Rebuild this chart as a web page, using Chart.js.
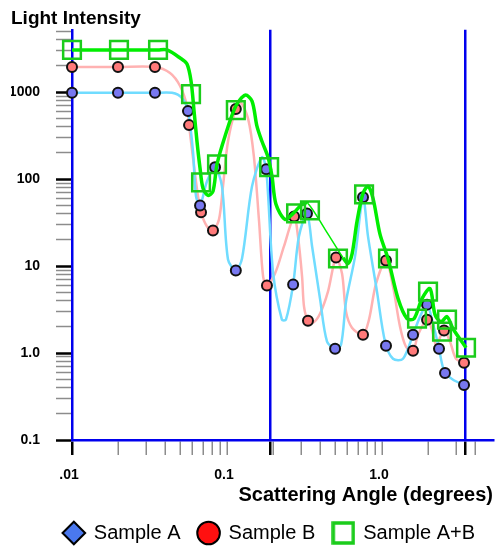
<!DOCTYPE html>
<html>
<head>
<meta charset="utf-8">
<title>Light Intensity vs Scattering Angle</title>
<script src="https://cdn.jsdelivr.net/npm/chart.js@4.4.1/dist/chart.umd.min.js"></script>
<style>
    html, body { margin: 0; padding: 0; background: #fff; }
</style>
</head>
<body>
<canvas id="myChart" width="496" height="546"></canvas>
<script>
// marker readings (angle in degrees, intensity)
var angleA = [0.01, 0.0198, 0.0343, 0.056, 0.067, 0.0837, 0.114, 0.179, 0.267, 0.328, 0.498, 0.754, 1.061, 1.585, 1.952, 2.332, 2.55, 3.381];
var intensityA = [980, 980, 980, 604, 49.8, 137, 8.87, 130, 6.12, 40.3, 1.12, 61.6, 1.21, 1.62, 3.6, 1.12, 0.59, 0.43];

var angleB = [0.01, 0.0198, 0.0343, 0.0569, 0.068, 0.0812, 0.114, 0.181, 0.271, 0.333, 0.505, 0.754, 1.061, 1.585, 1.952, 2.512, 3.381];
var intensityB = [1940, 1940, 1940, 417, 41.4, 25.7, 637, 5.96, 37.2, 2.35, 12.5, 1.62, 11.6, 1.06, 2.42, 1.81, 0.772];

var angleAB = [0.01, 0.0201, 0.0359, 0.0586, 0.068, 0.0862, 0.114, 0.187, 0.279, 0.343, 0.52, 0.766, 1.093, 1.682, 1.981, 2.439, 2.627, 3.483];
var intensityAB = [3050, 3050, 3050, 948, 91.7, 148, 620, 137, 40.3, 43.6, 12.2, 66.7, 12.2, 2.48, 5.08, 1.76, 2.42, 1.15];

// curves (they swing past the markers)
var lineAngleA = [0.01, 0.0198, 0.0343, 0.0442, 0.0513, 0.056, 0.0603, 0.0631, 0.067, 0.0743, 0.0837, 0.0928, 0.1015, 0.114, 0.125, 0.145, 0.168, 0.179, 0.198, 0.226, 0.24, 0.267, 0.291, 0.328, 0.354, 0.398, 0.442, 0.498, 0.544, 0.586, 0.67, 0.754, 0.812, 0.928, 1.046, 1.178, 1.366, 1.585, 1.759, 1.952, 2.133, 2.332, 2.439, 2.55, 2.871, 3.381];
var lineIntensityA = [980, 980, 980, 980, 853, 604, 209, 63.3, 49.8, 94.2, 137, 82.5, 11.9, 8.87, 12.2, 82.5, 178, 130, 8.64, 2.42, 2.42, 6.12, 21.9, 40.3, 16.8, 4.22, 1.35, 1.12, 1.245, 3.9, 12.9, 61.6, 21.9, 5.08, 1.35, 0.859, 0.859, 1.62, 2.62, 3.6, 2.17, 1.12, 0.752, 0.592, 0.492, 0.43];

var lineAngleB = [0.01, 0.0198, 0.0343, 0.0429, 0.0498, 0.0552, 0.0569, 0.0613, 0.065, 0.068, 0.0743, 0.0812, 0.0888, 0.0942, 0.1015, 0.114, 0.123, 0.137, 0.149, 0.161, 0.171, 0.181, 0.204, 0.233, 0.271, 0.287, 0.305, 0.314, 0.333, 0.359, 0.398, 0.448, 0.505, 0.552, 0.586, 0.64, 0.754, 0.824, 0.915, 1.061, 1.178, 1.307, 1.428, 1.585, 1.707, 1.952, 2.102, 2.231, 2.512, 2.746, 3.001, 3.381];
var lineIntensityB = [1940, 1940, 1940, 1656, 1173, 690, 417, 140, 63.3, 41.4, 28.5, 25.7, 34.4, 82.5, 272, 637, 747, 489, 183, 32.6, 7.57, 5.96, 8.19, 16.8, 37.2, 21.9, 7.57, 3.41, 2.35, 2.23, 2.83, 5.08, 12.5, 8.19, 2.99, 1.955, 1.62, 2.42, 6.29, 11.6, 5.8, 2.0, 1.18, 1.06, 1.62, 2.42, 1.85, 1.245, 1.81, 1.35, 0.859, 0.772];

var lineAngleAB = [0.01, 0.0201, 0.0359, 0.041, 0.0498, 0.0552, 0.0586, 0.0613, 0.064, 0.067, 0.07, 0.0754, 0.0812, 0.0862, 0.0971, 0.114, 0.131, 0.145, 0.156, 0.168, 0.184, 0.195, 0.207, 0.237, 0.267, 0.305, 0.333, 0.429, 0.56, 0.603, 0.64, 0.69, 0.754, 0.812, 0.875, 0.971, 1.093, 1.269, 1.45, 1.609, 1.812, 2.041, 2.198, 2.403, 2.627, 2.871, 3.483];
var lineIntensityAB = [3050, 3050, 3050, 3050, 2465, 2100, 1339, 604, 272, 133, 78.2, 64.9, 72.2, 148, 311, 690, 923, 788, 406, 272, 178, 108, 51.2, 34.4, 40.3, 51.2, 52.5, 26.4, 12.5, 10.7, 13.6, 32.6, 68.5, 82.5, 60, 23.1, 12.2, 4.22, 2.48, 2.48, 4.22, 5.5, 2.76, 2.29, 2.62, 1.9, 1.15];
// stretch of the A+B curve that is drawn thin
var thinSpanAB = [0.333, 0.56];

// axis labels and the two blue marker lines
var xLabelValues = [0.01, 0.1, 1];
var xLabelText = ['.01', '0.1', '1.0'];
var xLastTick = 4;
var yLabelValues = [0.1, 1, 10, 100, 1000];
var yLabelText = ['0.1', '1.0', '10', '100', '1000'];
var guideAngles = [0.189, 3.43];

var BLUE = '#0000ee';
var GREEN = '#1bcc1b';

function pts(xs, ys) {
    return xs.map(function (x, i) { return {x: x, y: ys[i]}; });
}

function same(a, b) {
    return Math.abs(a - b) <= 1e-6 * Math.max(Math.abs(a), Math.abs(b));
}

function inList(v, list) {
    return list.some(function (w) { return same(v, w); });
}

function labelFor(v, values, texts) {
    for (var i = 0; i < values.length; i++) {
        if (same(v, values[i])) return texts[i];
    }
    return '';
}

// 1..9 x 10^n ticks plus any extra values
function logTicks(min, max, extra) {
    var ticks = [];
    for (var e = Math.floor(Math.log10(min)); e <= Math.floor(Math.log10(max)); e++) {
        for (var d = 1; d <= 9; d++) {
            var v = +(d * Math.pow(10, e)).toPrecision(6);
            if (v >= min * 0.9999 && v <= max * 1.0001) ticks.push({value: v, major: d === 1});
        }
    }
    extra.forEach(function (v) { ticks.push({value: v}); });
    return ticks.sort(function (a, b) { return a.value - b.value; });
}

function tickVal(ctx) {
    return ctx.tick ? ctx.tick.value : NaN;
}

// open square for the A+B legend entry (the built-in rect comes out too small)
var legendSquare = document.createElement('canvas');
legendSquare.width = 24;
legendSquare.height = 24;
var sq = legendSquare.getContext('2d');
sq.strokeStyle = GREEN;
sq.lineWidth = 3.5;
sq.strokeRect(2, 2, 20, 20);

Chart.defaults.font.family = '"Liberation Sans", Arial, sans-serif';
Chart.defaults.color = '#000';

new Chart('myChart', {
    type: 'scatter',
    data: {
        datasets: [
        {
            label: 'Sample A+B',
            data: pts(angleAB, intensityAB),
            pointStyle: 'rect',
            pointRadius: 12.5,
            pointBackgroundColor: 'rgba(0,0,0,0)',
            pointBorderColor: GREEN,
            pointBorderWidth: 2.5,
            clip: false
        },
        {
            label: 'A+B curve',
            data: pts(lineAngleAB, lineIntensityAB),
            showLine: true,
            borderColor: '#00ee00',
            borderWidth: 3.5,
            segment: {
                borderWidth: function (ctx) {
                    var a = ctx.p0.parsed.x, b = ctx.p1.parsed.x;
                    return (a >= thinSpanAB[0] * 0.999 && b <= thinSpanAB[1] * 1.001) ? 1.5 : 3.5;
                }
            },
            pointRadius: 0,
            tension: 0.3,
            clip: false
        },
        {
            label: 'Sample A',
            data: pts(angleA, intensityA),
            pointStyle: 'circle',
            pointRadius: 5,
            pointBackgroundColor: '#7878f0',
            pointBorderColor: '#111',
            pointBorderWidth: 2,
            clip: false
        },
        {
            label: 'Sample B',
            data: pts(angleB, intensityB),
            pointStyle: 'circle',
            pointRadius: 5,
            pointBackgroundColor: '#ff7a7a',
            pointBorderColor: '#111',
            pointBorderWidth: 2,
            clip: false
        },
        {
            label: 'A curve',
            data: pts(lineAngleA, lineIntensityA),
            showLine: true,
            borderColor: '#70dcff',
            borderWidth: 2.5,
            pointRadius: 0,
            tension: 0.3,
            clip: false
        },
        {
            label: 'B curve',
            data: pts(lineAngleB, lineIntensityB),
            showLine: true,
            borderColor: '#ffb2b2',
            borderWidth: 2.5,
            pointRadius: 0,
            tension: 0.3,
            clip: false
        }
        ]
    },
    options: {
        responsive: false,
        animation: false,
        events: [],
        devicePixelRatio: 1,
        layout: {autoPadding: false, padding: {left: 11, right: 3, top: 0, bottom: -7}},
        scales: {
            x: {
                type: 'logarithmic',
                min: 0.01,
                max: 5.2,
                afterBuildTicks: function (axis) { axis.ticks = logTicks(axis.min, xLastTick, guideAngles); },
                afterFit: function (axis) { axis.height = 65; },
                border: {color: BLUE, width: 2.5},
                grid: {
                    color: function (ctx) { return inList(tickVal(ctx), guideAngles) ? BLUE : 'rgba(0,0,0,0)'; },
                    lineWidth: 2.5,
                    tickLength: 15,
                    tickColor: function (ctx) {
                        var v = tickVal(ctx);
                        return (inList(v, guideAngles) || same(v, 0.01)) ? '#000' : '#8c8c8c';
                    },
                    tickWidth: function (ctx) {
                        var v = tickVal(ctx);
                        return (inList(v, guideAngles) || same(v, 0.01)) ? 2.5 : 1.5;
                    }
                },
                ticks: {
                    autoSkip: false,
                    maxRotation: 0,
                    minRotation: 0,
                    padding: 12,
                    labelOffset: -3,
                    font: {size: 14, weight: 'bold'},
                    callback: function (v) { return labelFor(v, xLabelValues, xLabelText); }
                },
                title: {
                    display: true,
                    text: 'Scattering Angle (degrees)',
                    align: 'end',
                    font: {size: 20, weight: 'bold'},
                    padding: {top: 0, bottom: -2}
                }
            },
            y: {
                type: 'logarithmic',
                min: 0.1,
                max: 5200,
                afterBuildTicks: function (axis) { axis.ticks = logTicks(axis.min, axis.max, []); },
                afterFit: function (axis) { axis.width = 61; },
                border: {color: BLUE, width: 2.5},
                grid: {
                    drawOnChartArea: false,
                    tickLength: 16,
                    tickColor: function (ctx) { return inList(tickVal(ctx), yLabelValues) ? '#000' : '#8c8c8c'; },
                    tickWidth: function (ctx) { return inList(tickVal(ctx), yLabelValues) ? 2.5 : 1.5; }
                },
                ticks: {
                    autoSkip: false,
                    padding: 16,
                    font: {size: 14, weight: 'bold'},
                    callback: function (v) { return labelFor(v, yLabelValues, yLabelText); }
                }
            }
        },
        plugins: {
            title: {
                display: true,
                text: 'Light Intensity',
                align: 'start',
                color: '#000',
                font: {size: 19, weight: 'bold'},
                padding: {top: 7, bottom: 0}
            },
            legend: {
                position: 'bottom',
                align: 'end',
                labels: {
                    usePointStyle: true,
                    boxHeight: 16,
                    padding: 18,
                    color: '#000',
                    font: {size: 20},
                    generateLabels: function () {
                        return [
                            {text: 'Sample A', datasetIndex: 2, pointStyle: 'rectRot', fillStyle: '#4a78ee', strokeStyle: '#000', lineWidth: 2, hidden: false, fontColor: '#000'},
                            {text: 'Sample B', datasetIndex: 3, pointStyle: 'circle', fillStyle: '#ff1010', strokeStyle: '#000', lineWidth: 2, hidden: false, fontColor: '#000'},
                            {text: 'Sample A+B', datasetIndex: 0, pointStyle: legendSquare, fillStyle: 'rgba(0,0,0,0)', strokeStyle: GREEN, lineWidth: 0, hidden: false, fontColor: '#000'}
                        ];
                    }
                }
            },
            tooltip: {enabled: false}
        }
    }
});
</script>
</body>
</html>
